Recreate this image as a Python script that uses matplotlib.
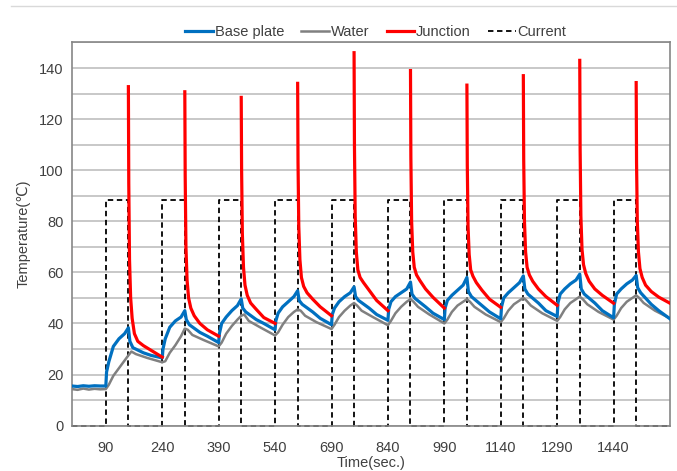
import numpy as np
import matplotlib
matplotlib.use("Agg")
import matplotlib.pyplot as plt
from matplotlib.lines import Line2D


# ---------------------------------------------------
# Data
# ---------------------------------------------------

# current pulses: on at rise, off at fall (seconds)
rise_times = [90, 240, 390, 540, 690, 840, 990, 1140, 1290, 1440]
fall_times = [150, 300, 450, 600, 750, 900, 1050, 1200, 1350, 1500]
end_time = 1590
current_level = 88.5

x_ticks = [90, 240, 390, 540, 690, 840, 990, 1140, 1290, 1440]

# base plate: flat part before the first pulse, then one row per cycle
base_pre_time = [0, 15, 30, 45, 60, 75]
base_pre_temp = [15.5, 15.3, 15.6, 15.4, 15.6, 15.5]
base_offsets = [0, 2, 8, 20, 35, 50, 60, 64, 72, 100, 120]
base_cycles = [
    [15.5, 21.0, 25.0, 31.0, 34.0, 36.0, 38.3, 33.0, 30.5, 28.5, 27.5],
    [26.5, 30.0, 34.0, 38.5, 41.0, 42.5, 45.0, 41.5, 39.5, 36.5, 35.0],
    [32.5, 36.0, 40.0, 42.5, 45.0, 47.0, 49.6, 46.0, 44.5, 41.5, 40.0],
    [37.5, 41.0, 44.0, 46.5, 48.5, 50.5, 52.8, 49.0, 47.5, 44.5, 42.0],
    [39.5, 43.5, 46.0, 48.5, 50.5, 52.0, 54.3, 50.5, 49.0, 46.0, 43.5],
    [41.2, 45.5, 48.5, 50.5, 52.0, 53.5, 56.2, 51.5, 49.8, 46.5, 44.0],
    [41.5, 46.0, 49.0, 51.0, 53.0, 55.0, 58.0, 52.5, 50.5, 47.0, 44.5],
    [41.8, 46.5, 50.0, 52.0, 54.0, 56.0, 58.6, 53.5, 51.5, 48.0, 45.0],
    [42.7, 48.0, 51.5, 53.5, 55.5, 57.0, 59.3, 53.5, 51.5, 48.0, 45.0],
    [42.2, 47.5, 51.5, 53.5, 55.5, 57.0, 58.8, 54.0, 52.0, 47.5, 45.0],
]
base_end_temp = 41.8

# water
water_pre_time = [0, 15, 30, 45, 60, 75]
water_pre_temp = [14.3, 14.0, 14.5, 14.1, 14.4, 14.2]
water_offsets = [0, 8, 20, 35, 50, 60, 68, 80, 110]
water_cycles = [
    [14.3, 16.0, 19.5, 22.5, 25.5, 27.5, 29.0, 28.0, 26.5],
    [24.8, 25.2, 28.5, 31.5, 35.0, 38.0, 37.5, 35.5, 33.5],
    [31.0, 32.5, 36.0, 39.0, 41.5, 43.0, 43.5, 41.0, 38.5],
    [35.3, 36.5, 39.5, 42.5, 44.5, 45.5, 45.0, 43.0, 40.5],
    [37.8, 39.5, 42.5, 45.0, 47.0, 48.0, 47.0, 45.0, 42.5],
    [39.3, 41.0, 44.0, 46.5, 48.5, 49.5, 48.5, 46.5, 43.5],
    [40.0, 41.5, 44.5, 47.0, 48.5, 49.5, 48.5, 46.5, 43.5],
    [40.5, 42.0, 45.0, 47.5, 49.0, 50.0, 49.0, 47.0, 44.0],
    [41.0, 42.5, 45.5, 48.0, 49.5, 50.5, 49.5, 47.5, 44.5],
    [41.5, 43.0, 46.0, 48.5, 50.0, 51.0, 50.0, 48.0, 45.0],
]
water_end_temp = 42.0

# junction: measured only while the current is off (offsets from fall)
junction_offsets = [0, 1, 3, 6, 10, 16, 25, 40, 60, 90]
junction_cycles = [
    [132.7, 95.0, 65.0, 50.0, 42.0, 36.0, 33.0, 31.3, 29.5, 26.8],
    [130.7, 98.0, 70.0, 57.0, 50.0, 46.0, 43.0, 40.0, 37.5, 35.0],
    [128.5, 100.0, 75.0, 62.0, 55.0, 51.0, 48.0, 45.5, 42.3, 40.0],
    [134.0, 103.0, 78.0, 65.0, 58.0, 54.5, 52.0, 49.5, 46.5, 43.0],
    [146.0, 110.0, 82.0, 68.0, 61.0, 58.0, 56.0, 53.0, 49.0, 45.0],
    [139.0, 105.0, 80.0, 68.0, 62.0, 59.0, 56.8, 53.5, 50.2, 46.0],
    [133.3, 102.0, 78.0, 67.0, 61.0, 58.5, 56.0, 53.0, 49.5, 46.3],
    [137.0, 104.0, 80.0, 68.0, 62.0, 59.0, 56.5, 53.5, 50.5, 47.1],
    [143.0, 108.0, 82.0, 69.0, 63.0, 59.5, 56.5, 53.5, 51.0, 47.9],
    [134.3, 103.0, 80.0, 68.0, 61.5, 58.0, 55.0, 52.5, 50.3, 47.9],
]


# ---------------------------------------------------
# Build series
# ---------------------------------------------------

base_t = list(base_pre_time)
base_v = list(base_pre_temp)
for r, row in zip(rise_times, base_cycles):
    base_t += [r + o for o in base_offsets]
    base_v += row
base_t.append(end_time)
base_v.append(base_end_temp)

water_t = list(water_pre_time)
water_v = list(water_pre_temp)
for r, row in zip(rise_times, water_cycles):
    water_t += [r + o for o in water_offsets]
    water_v += row
water_t.append(end_time)
water_v.append(water_end_temp)

cur_t = [0]
cur_v = [0]
for r, f in zip(rise_times, fall_times):
    cur_t += [r, r, f, f]
    cur_v += [0, current_level, current_level, 0]
cur_t.append(end_time)
cur_v.append(0)


# ---------------------------------------------------
# Plot
# ---------------------------------------------------

plt.rcParams["font.family"] = ["Liberation Sans", "DejaVu Sans"]
text_color = "#404040"

fig = plt.figure(figsize=(6.77, 4.71), dpi=100)
ax = fig.add_axes([0.1063, 0.0964, 0.9897 - 0.1063, 0.9098 - 0.0964])

ax.plot(cur_t, cur_v, color="black", linewidth=1.3,
        linestyle=(0, (3, 2)), label="Current", zorder=2, clip_on=False)

ax.plot(water_t, water_v, color="#808080", linewidth=1.8,
        label="Water", zorder=3)

ax.plot(base_t, base_v, color="#0070c0", linewidth=2.3,
        label="Base plate", zorder=4)

for i, (f, row) in enumerate(zip(fall_times, junction_cycles)):
    ax.plot([f + o for o in junction_offsets], row, color="#ff0000",
            linewidth=2.3, label="Junction" if i == 0 else None, zorder=5)

ax.set_xlim(0, end_time)
ax.set_ylim(0, 150)

ax.set_xticks(x_ticks)
ax.set_yticks(np.arange(0, 141, 20))
ax.set_yticks(np.arange(0, 151, 10), minor=True)
ax.tick_params(axis="both", which="both", length=0,
               labelsize=10.5, labelcolor=text_color)
ax.tick_params(axis="x", pad=11)
ax.tick_params(axis="y", pad=6)

ax.grid(True, axis="y", which="both", color="#bfbfbf", linewidth=1.2)
ax.set_axisbelow(True)

for s in ax.spines.values():
    s.set_color("#868686")
    s.set_linewidth(1.2)

ax.set_xlabel("Time(sec.)", fontsize=10.5, color=text_color, labelpad=1)
ax.set_ylabel("Temperature(\u2103)", fontsize=10.5, color=text_color,
              labelpad=6)

# legend order as in the chart
handles, labels = ax.get_legend_handles_labels()
order = ["Base plate", "Water", "Junction", "Current"]
hmap = dict(zip(labels, handles))
fig.legend([hmap[k] for k in order], order,
           loc="center", bbox_to_anchor=(0.555, 0.932), ncol=4,
           frameon=False, fontsize=10.5, handlelength=1.9,
           handletextpad=0.1, columnspacing=1.2, labelcolor=text_color)

# chart area border line at the top
fig.add_artist(Line2D([11 / 677, 1.0], [1 - 6 / 471, 1 - 6 / 471],
                      color="#d9d9d9", linewidth=1.0))

fig.savefig("out.png", dpi=100)
